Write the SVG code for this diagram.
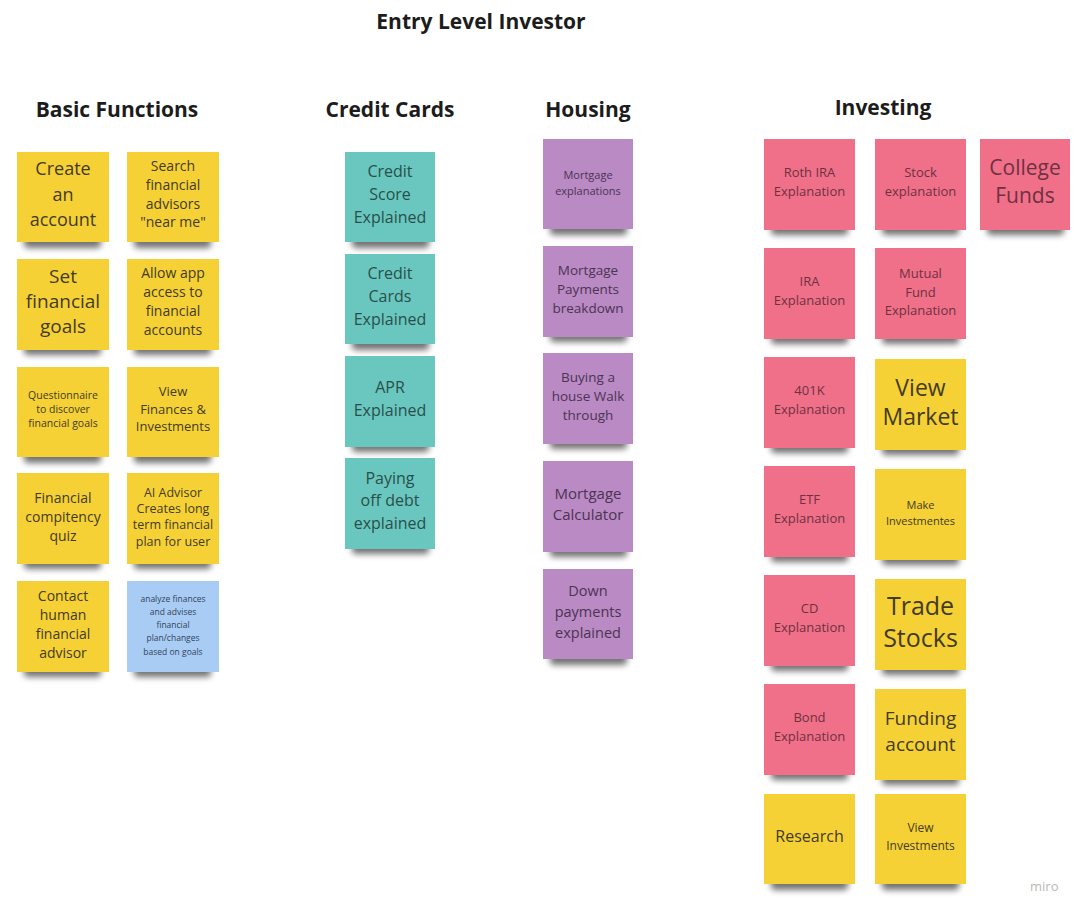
<svg xmlns="http://www.w3.org/2000/svg" width="1090" height="917" viewBox="0 0 1090 917">
<defs>
<filter id="blur" x="-20%" y="-100%" width="140%" height="300%"><feGaussianBlur stdDeviation="3"/></filter>
<rect id="shadow" x="7" y="78" width="77" height="18" rx="4" fill="#000" opacity="0.55" filter="url(#blur)"/>
</defs>
<style>
.h{font-family:"Open Sans","Liberation Sans",sans-serif;font-weight:bold;fill:#1c1c1c;text-anchor:middle;font-size:21px}
.t{font-family:"Open Sans","Liberation Sans",sans-serif;text-anchor:middle;dominant-baseline:central}
.y{fill:#f5d136}.g{fill:#69c7bf}.p{fill:#b98ac3}.r{fill:#f0708a}.b{fill:#a8ccf4}
.ty{fill:#443b22}.tg{fill:#2a4f4b}.tp{fill:#4d3354}.tr{fill:#6e3140}.tb{fill:#34435a}
.miro{font-family:"Open Sans","Liberation Sans",sans-serif;font-size:13px;fill:#b8b8b8}
</style>
<rect width="1090" height="917" fill="#ffffff"/>
<g id="headings">
<text class="h" x="481" y="29">Entry Level Investor</text>
<text class="h" x="117" y="117">Basic Functions</text>
<text class="h" x="390" y="117">Credit Cards</text>
<text class="h" x="588" y="117">Housing</text>
<text class="h" x="883" y="115">Investing</text>
</g>
<g id="connectors"></g>

<!-- Basic Functions -->
<g id="create-account" transform="translate(17,152)"><use href="#shadow"/><rect class="y" width="92" height="90"/>
<text class="t ty" font-size="18"><tspan x="46" y="16">Create</tspan><tspan x="46" y="42">an</tspan><tspan x="46" y="67">account</tspan></text></g>
<g id="search-advisors" transform="translate(127,152)"><use href="#shadow"/><rect class="y" width="92" height="90"/>
<text class="t ty" font-size="14"><tspan x="46" y="13">Search</tspan><tspan x="46" y="32">financial</tspan><tspan x="46" y="51">advisors</tspan><tspan x="46" y="69">"near me"</tspan></text></g>
<g id="set-goals" transform="translate(17,259)"><use href="#shadow"/><rect class="y" width="92" height="91"/>
<text class="t ty" font-size="19"><tspan x="46" y="17">Set</tspan><tspan x="46" y="42">financial</tspan><tspan x="46" y="67">goals</tspan></text></g>
<g id="allow-access" transform="translate(127,259)"><use href="#shadow"/><rect class="y" width="92" height="91"/>
<text class="t ty" font-size="14"><tspan x="46" y="13">Allow app</tspan><tspan x="46" y="32">access to</tspan><tspan x="46" y="51">financial</tspan><tspan x="46" y="70">accounts</tspan></text></g>
<g id="questionnaire" transform="translate(17,367)"><use href="#shadow"/><rect class="y" width="92" height="90"/>
<text class="t ty" font-size="10.5"><tspan x="46" y="28">Questionnaire</tspan><tspan x="46" y="42">to discover</tspan><tspan x="46" y="56">financial goals</tspan></text></g>
<g id="view-finances" transform="translate(127,367)"><use href="#shadow"/><rect class="y" width="92" height="90"/>
<text class="t ty" font-size="13"><tspan x="46" y="24">View</tspan><tspan x="46" y="42">Finances &amp;</tspan><tspan x="46" y="59">Investments</tspan></text></g>
<g id="competency-quiz" transform="translate(17,473)"><use href="#shadow"/><rect class="y" width="92" height="91"/>
<text class="t ty" font-size="14"><tspan x="46" y="24">Financial</tspan><tspan x="46" y="43">compitency</tspan><tspan x="46" y="62">quiz</tspan></text></g>
<g id="ai-advisor" transform="translate(127,473)"><use href="#shadow"/><rect class="y" width="92" height="91"/>
<text class="t ty" font-size="12.5"><tspan x="46" y="19">AI Advisor</tspan><tspan x="46" y="35">Creates long</tspan><tspan x="46" y="51">term financial</tspan><tspan x="46" y="68">plan for user</tspan></text></g>
<g id="contact-advisor" transform="translate(17,581)"><use href="#shadow"/><rect class="y" width="92" height="91"/>
<text class="t ty" font-size="14"><tspan x="46" y="14">Contact</tspan><tspan x="46" y="33">human</tspan><tspan x="46" y="52">financial</tspan><tspan x="46" y="71">advisor</tspan></text></g>
<g id="analyze-finances" transform="translate(127,581)"><use href="#shadow"/><rect class="b" width="92" height="91"/>
<text class="t tb" font-size="8.5"><tspan x="46" y="17">analyze finances</tspan><tspan x="46" y="30">and advises</tspan><tspan x="46" y="43">financial</tspan><tspan x="46" y="56">plan/changes</tspan><tspan x="46" y="70">based on goals</tspan></text></g>

<!-- Credit Cards -->
<g id="credit-score" transform="translate(345,152)"><use href="#shadow"/><rect class="g" width="90" height="90"/>
<text class="t tg" font-size="16"><tspan x="45" y="19">Credit</tspan><tspan x="45" y="42">Score</tspan><tspan x="45" y="65">Explained</tspan></text></g>
<g id="credit-cards" transform="translate(345,254)"><use href="#shadow"/><rect class="g" width="90" height="90"/>
<text class="t tg" font-size="16"><tspan x="45" y="19">Credit</tspan><tspan x="45" y="42">Cards</tspan><tspan x="45" y="65">Explained</tspan></text></g>
<g id="apr" transform="translate(345,356)"><use href="#shadow"/><rect class="g" width="90" height="91"/>
<text class="t tg" font-size="16"><tspan x="45" y="31">APR</tspan><tspan x="45" y="54">Explained</tspan></text></g>
<g id="paying-debt" transform="translate(345,458)"><use href="#shadow"/><rect class="g" width="90" height="91"/>
<text class="t tg" font-size="16"><tspan x="45" y="20">Paying</tspan><tspan x="45" y="42">off debt</tspan><tspan x="45" y="65">explained</tspan></text></g>

<!-- Housing -->
<g id="mortgage-explanations" transform="translate(543,139)"><use href="#shadow"/><rect class="p" width="90" height="90"/>
<text class="t tp" font-size="11"><tspan x="45" y="35">Mortgage</tspan><tspan x="45" y="51">explanations</tspan></text></g>
<g id="mortgage-payments" transform="translate(543,246)"><use href="#shadow"/><rect class="p" width="90" height="91"/>
<text class="t tp" font-size="13.5"><tspan x="45" y="24">Mortgage</tspan><tspan x="45" y="43">Payments</tspan><tspan x="45" y="62">breakdown</tspan></text></g>
<g id="buying-house" transform="translate(543,353)"><use href="#shadow"/><rect class="p" width="90" height="91"/>
<text class="t tp" font-size="13.5"><tspan x="45" y="24">Buying a</tspan><tspan x="45" y="43">house Walk</tspan><tspan x="45" y="62">through</tspan></text></g>
<g id="mortgage-calculator" transform="translate(543,461)"><use href="#shadow"/><rect class="p" width="90" height="91"/>
<text class="t tp" font-size="15"><tspan x="45" y="32">Mortgage</tspan><tspan x="45" y="53">Calculator</tspan></text></g>
<g id="down-payments" transform="translate(543,569)"><use href="#shadow"/><rect class="p" width="90" height="90"/>
<text class="t tp" font-size="14.5"><tspan x="45" y="21">Down</tspan><tspan x="45" y="42">payments</tspan><tspan x="45" y="63">explained</tspan></text></g>

<!-- Investing -->
<g id="roth-ira" transform="translate(764,139)"><use href="#shadow"/><rect class="r" width="91" height="91"/>
<text class="t tr" font-size="13"><tspan x="45.5" y="33">Roth IRA</tspan><tspan x="45.5" y="52">Explanation</tspan></text></g>
<g id="stock" transform="translate(875,139)"><use href="#shadow"/><rect class="r" width="91" height="91"/>
<text class="t tr" font-size="13"><tspan x="45.5" y="33">Stock</tspan><tspan x="45.5" y="52">explanation</tspan></text></g>
<g id="college-funds" transform="translate(980,139)"><use href="#shadow"/><rect class="r" width="90" height="91"/>
<text class="t tr" font-size="21"><tspan x="45" y="28">College</tspan><tspan x="45" y="56">Funds</tspan></text></g>
<g id="ira" transform="translate(764,248)"><use href="#shadow"/><rect class="r" width="91" height="91"/>
<text class="t tr" font-size="13"><tspan x="45.5" y="33">IRA</tspan><tspan x="45.5" y="52">Explanation</tspan></text></g>
<g id="mutual-fund" transform="translate(875,248)"><use href="#shadow"/><rect class="r" width="91" height="91"/>
<text class="t tr" font-size="13"><tspan x="45.5" y="25">Mutual</tspan><tspan x="45.5" y="44">Fund</tspan><tspan x="45.5" y="62">Explanation</tspan></text></g>
<g id="k401" transform="translate(764,357)"><use href="#shadow"/><rect class="r" width="91" height="91"/>
<text class="t tr" font-size="13"><tspan x="45.5" y="33">401K</tspan><tspan x="45.5" y="52">Explanation</tspan></text></g>
<g id="view-market" transform="translate(875,359)"><use href="#shadow"/><rect class="y" width="91" height="91"/>
<text class="t ty" font-size="23"><tspan x="45.5" y="28">View</tspan><tspan x="45.5" y="57">Market</tspan></text></g>
<g id="etf" transform="translate(764,466)"><use href="#shadow"/><rect class="r" width="91" height="91"/>
<text class="t tr" font-size="13"><tspan x="45.5" y="33">ETF</tspan><tspan x="45.5" y="52">Explanation</tspan></text></g>
<g id="make-investments" transform="translate(875,469)"><use href="#shadow"/><rect class="y" width="91" height="91"/>
<text class="t ty" font-size="11"><tspan x="45.5" y="35">Make</tspan><tspan x="45.5" y="51">Investmentes</tspan></text></g>
<g id="cd" transform="translate(764,575)"><use href="#shadow"/><rect class="r" width="91" height="91"/>
<text class="t tr" font-size="13"><tspan x="45.5" y="33">CD</tspan><tspan x="45.5" y="52">Explanation</tspan></text></g>
<g id="trade-stocks" transform="translate(875,579)"><use href="#shadow"/><rect class="y" width="91" height="91"/>
<text class="t ty" font-size="25"><tspan x="45.5" y="26">Trade</tspan><tspan x="45.5" y="58">Stocks</tspan></text></g>
<g id="bond" transform="translate(764,684)"><use href="#shadow"/><rect class="r" width="91" height="91"/>
<text class="t tr" font-size="13"><tspan x="45.5" y="33">Bond</tspan><tspan x="45.5" y="52">Explanation</tspan></text></g>
<g id="funding-account" transform="translate(875,689)"><use href="#shadow"/><rect class="y" width="91" height="91"/>
<text class="t ty" font-size="19"><tspan x="45.5" y="29">Funding</tspan><tspan x="45.5" y="55">account</tspan></text></g>
<g id="research" transform="translate(764,794)"><use href="#shadow"/><rect class="y" width="91" height="90"/>
<text class="t ty" font-size="16"><tspan x="45.5" y="42">Research</tspan></text></g>
<g id="view-investments" transform="translate(875,794)"><use href="#shadow"/><rect class="y" width="91" height="90"/>
<text class="t ty" font-size="12"><tspan x="45.5" y="33">View</tspan><tspan x="45.5" y="51">Investments</tspan></text></g>

<text class="miro" x="1030" y="891">miro</text>
</svg>
